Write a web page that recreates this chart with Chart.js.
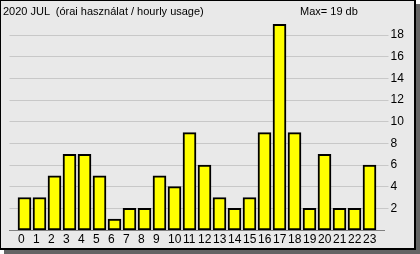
<!DOCTYPE html>
<html>
<head>
<meta charset="utf-8">
<script src="https://cdn.jsdelivr.net/npm/chart.js@4"></script>
<style>
  html, body { margin: 0; padding: 0; background: #ffffff; }
  #wrap { position: relative; width: 420px; height: 254px; font-family: "Liberation Sans", Arial, sans-serif; font-size: 11px; color: #000; }
  #shadow { position: absolute; left: 4px; top: 4px; width: 416px; height: 250px; background: #646464; }
  #frame { position: absolute; left: 0; top: 0; width: 413px; height: 247px; background: #e9e9e9;
           border-top: 1px solid #000; border-left: 1px solid #000; border-right: 2px solid #000; border-bottom: 2px solid #000; }
  .txt { position: absolute; top: 5px; line-height: 13px; white-space: pre; }
  #title { left: 3px; }
  #maxlbl { left: 300px; }
  #box { position: absolute; left: 0; top: 0; width: 420px; height: 254px; }
</style>
</head>
<body>
<div id="wrap">
  <div id="shadow"></div>
  <div id="frame"></div>
  <div id="box"><canvas id="usage-chart"></canvas></div>
  <div class="txt" id="title">2020 JUL  (órai használat / hourly usage)</div>
  <div class="txt" id="maxlbl">Max= 19 db</div>
</div>
<script>
// hourly usage, July 2020
const hours = ["0", "1", "2", "3", "4", "5", "6", "7", "8", "9", "10", "11",
  "12", "13", "14", "15", "16", "17", "18", "19", "20", "21", "22", "23"];
const usage = [3, 3, 5, 7, 7, 5, 1, 2, 2, 5, 4, 9, 6, 3, 2, 3, 9, 19, 9, 2, 7, 2, 2, 6];
const yTicks = [2, 4, 6, 8, 10, 12, 14, 16, 18];

Chart.defaults.font.family = '"Liberation Sans", Arial, sans-serif';
Chart.defaults.font.size = 12;
Chart.defaults.color = "#000";

const usageChart = new Chart(document.getElementById("usage-chart"), {
  type: "bar",
  data: {
    datasets: [
      {
        data: usage.map((v, i) => ({ x: i, y: v })),
        backgroundColor: "#ffff00",
        borderColor: "#000",
        borderWidth: 2,
        borderSkipped: false,
        barThickness: 13,
      },
    ],
  },
  options: {
    responsive: true,
    maintainAspectRatio: false,
    animation: false,
    layout: {
      padding: { left: 9.5, top: 20, right: 0, bottom: 0 },
    },
    plugins: {
      legend: { display: false },
      tooltip: { enabled: false },
    },
    scales: {
      x: {
        type: "linear",
        min: -1,
        max: 24,
        offset: false,
        grid: { display: false, offset: false, drawTicks: false },
        border: { display: true, color: "#808080", width: 1 },
        ticks: {
          stepSize: 1,
          autoSkip: false,
          maxRotation: 0,
          align: "start",
          labelOffset: -6.5,
          padding: 2,
          callback: (v) => hours[v] ?? "",
        },
        afterFit: (scale) => {
          scale.height = 24;
        },
      },
      y: {
        position: "right",
        min: 0,
        max: 19.4,
        border: { display: false },
        grid: {
          color: "#c8c8c8",
          tickLength: 4,
        },
        ticks: {
          padding: 2,
        },
        afterBuildTicks: (scale) => {
          scale.ticks = yTicks.map((v) => ({ value: v }));
        },
        afterFit: (scale) => {
          scale.width = 35.5;
        },
      },
    },
  },
});
</script>
</body>
</html>
